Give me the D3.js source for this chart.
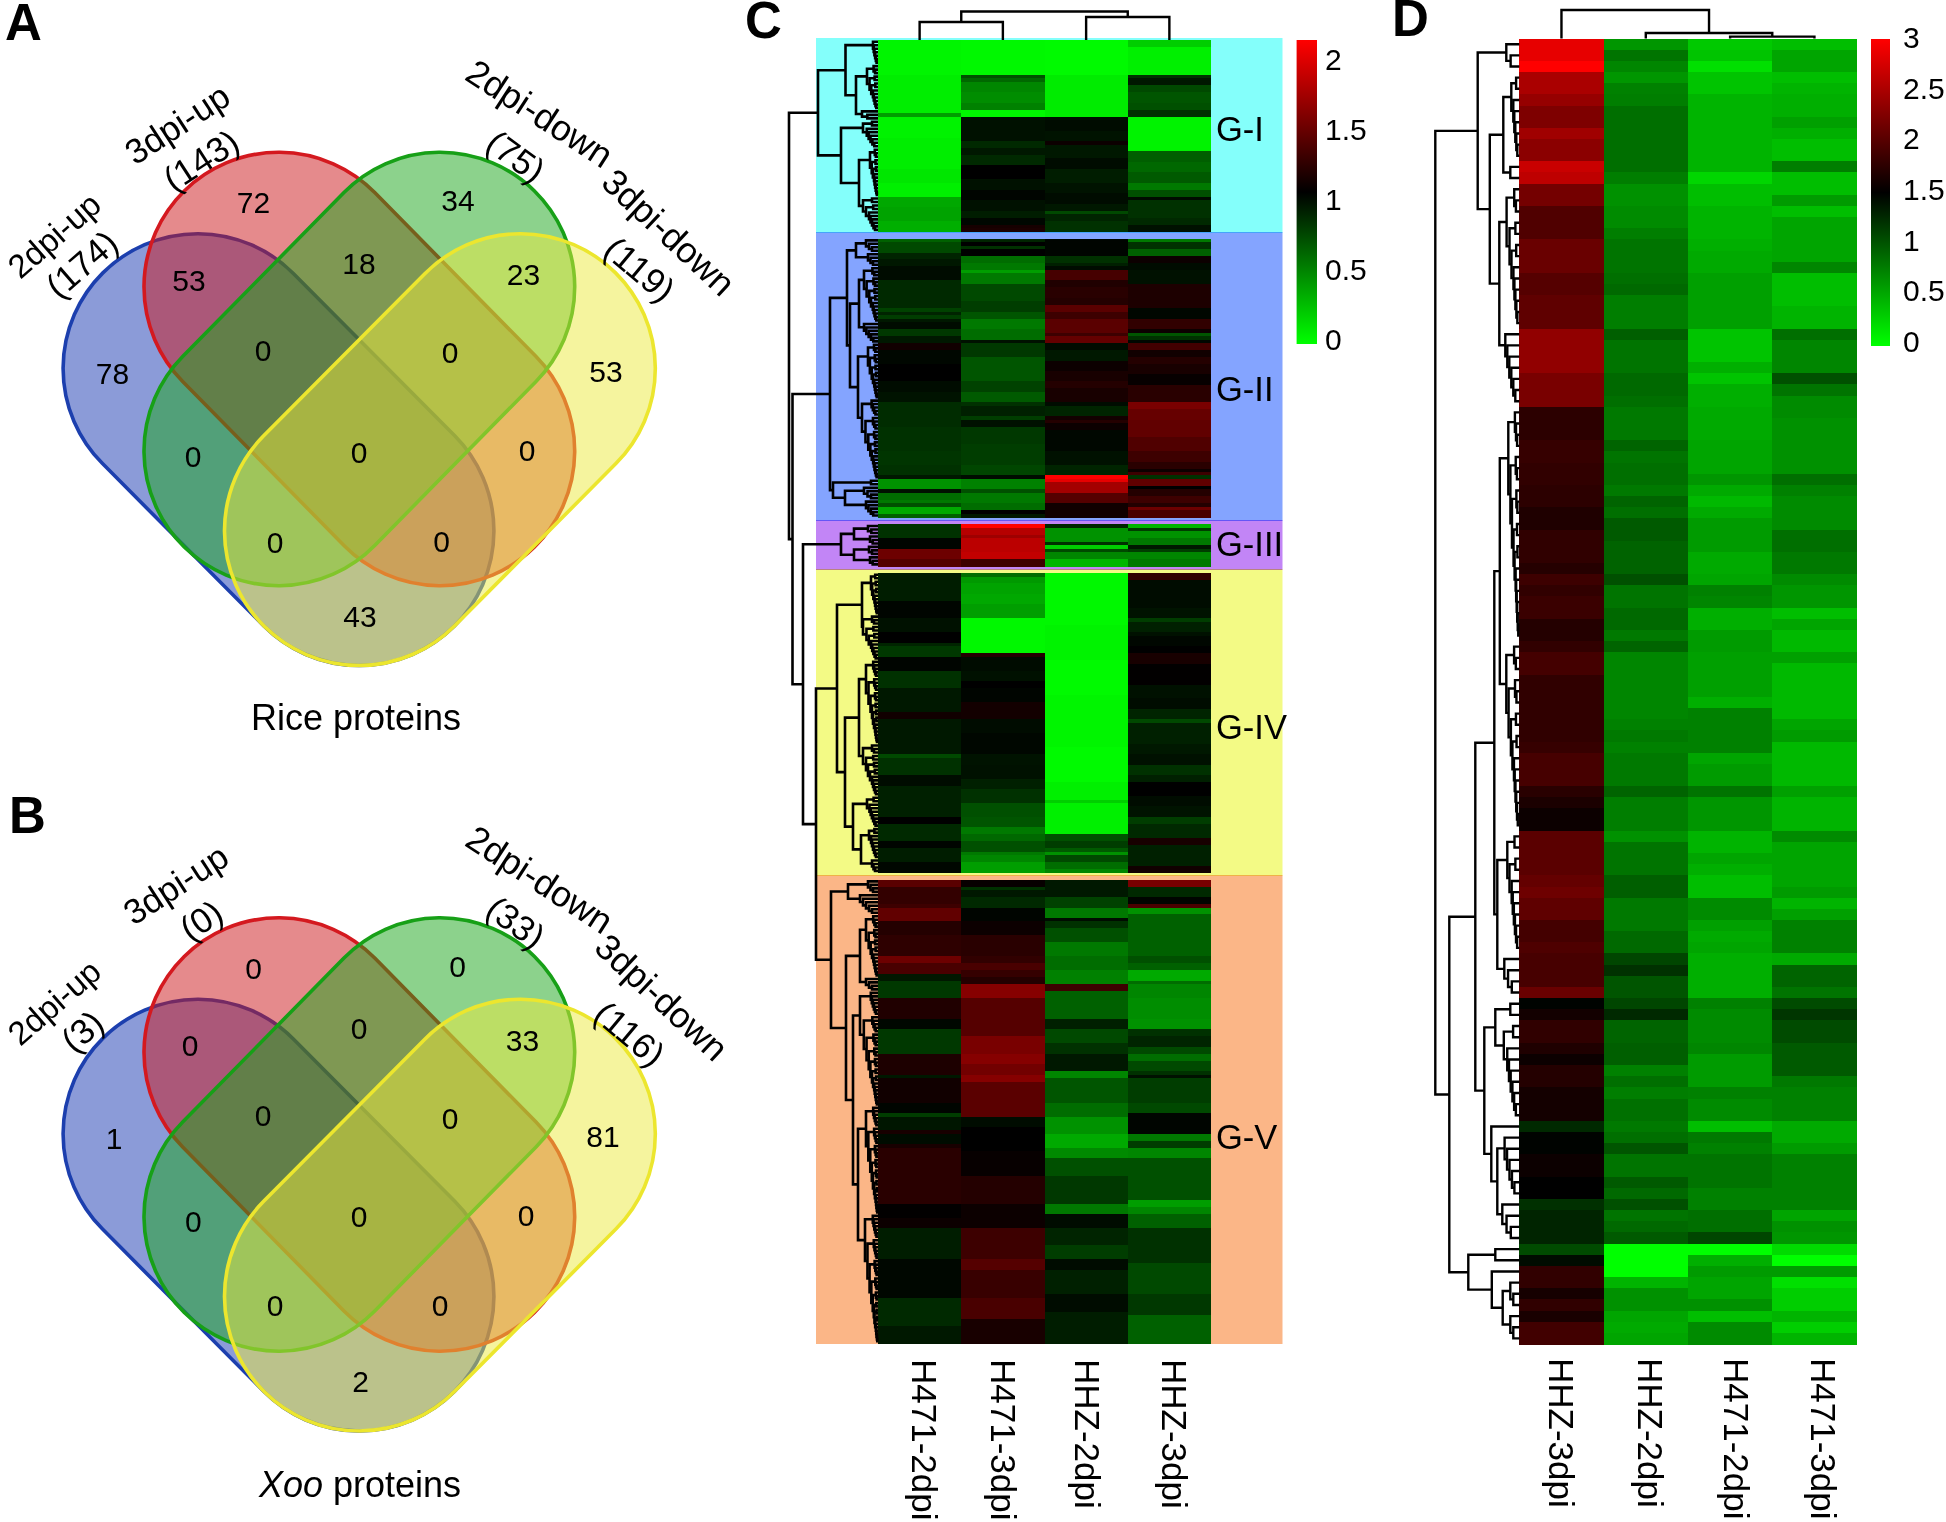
<!DOCTYPE html>
<html><head><meta charset="utf-8">
<script src="https://cdn.jsdelivr.net/npm/d3@7"></script>
<style>html,body{margin:0;background:#fff}svg{display:block}text{font-family:"Liberation Sans",Arial,sans-serif;fill:#000}</style>
</head><body><svg id="c" width="1946" height="1522"></svg>
<script>
// ---------- Venn data ----------
const vennSets = ["2dpi-up","3dpi-up","2dpi-down","3dpi-down"];
const riceSetSizes = [174,143,75,119];
const xooSetSizes = [3,0,33,116];
const vennRegions = ["a","b","ab","c","bc","cd","abc","bcd","d","ac","abcd","bd","acd","abd","ad"];
const riceCounts = [78,72,53,34,18,23,0,0,53,0,0,0,0,0,43];
const xooCounts  = [1,0,0,0,0,33,0,0,81,0,0,0,0,0,2];

// ---------- Panel C heat values (runs of [rows, value]) ----------
const groupsC = ["G-I","G-II","G-III","G-IV","G-V"];
const colsC = ["H471-2dpi","H471-3dpi","HHZ-2dpi","HHZ-3dpi"];
const h2_GI=[[10,.04],[11,.07],[1,.4],[6,.05],[9,.07],[4,.1],[4,.06],[3,.36],[4,.38],[3,.33]];
const h3_GI=[[10,.03],[1,.72],[1,.62],[3,.5],[3,.47],[2,.52],[2,.03],[7,.98],[2,.88],[2,.95],[3,.88],[4,1.05],[3,.98],[3,1.03],[3,.98],[2,.93],[2,1.02],[1,1.14],[1,1.16],[2,1.05]];
const z2_GI=[[10,.02],[12,.08],[4,1.0],[3,.97],[1,1.1],[4,.95],[3,1.0],[4,.93],[3,.97],[3,1.0],[2,.95],[1,.75],[2,.9],[3,.85]];
const z3_GI=[[2,.2],[8,.06],[1,.85],[2,.95],[2,.75],[3,.7],[2,.72],[2,.85],[10,.05],[3,.66],[3,.62],[3,.68],[2,.55],[2,.72],[1,1.0],[1,.85],[4,.85],[2,.88],[2,.98]];
const h2_GII=[[1,.65],[3,.75],[2,.9],[2,.95],[4,1.0],[8,.88],[1,.78],[1,.9],[1,.8],[1,.95],[2,1],[2,.82],[2,.95],[2,1.12],[4,1.02],[5,1.05],[3,1.0],[3,.97],[7,.87],[7,.85],[4,.83],[3,.85],[1,.95],[3,.45],[1,.98],[2,.6],[1,.55],[1,.72],[2,.35],[1,.65]];
const h3_GII=[[1,.9],[1,1.05],[1,.85],[2,1.05],[2,.6],[2,.55],[1,.4],[3,.55],[5,.75],[3,.8],[2,.7],[3,.55],[3,.6],[1,.98],[4,.82],[7,.7],[3,.78],[3,.68],[1,.85],[3,.92],[1,.8],[2,.98],[5,.82],[6,.8],[3,.76],[1,1.0],[3,.52],[1,.72],[3,.55],[2,.6],[1,1.05],[1,.95]];
const z2_GII=[[5,1.03],[2,.85],[1,.92],[1,1.0],[3,1.34],[2,1.18],[3,1.22],[2,1.2],[2,1.42],[2,1.3],[4,1.42],[1,1.3],[2,1.46],[2,1.0],[3,.95],[3,1.1],[3,1.15],[2,1.2],[4,1.15],[1,1.0],[3,.9],[1,1.13],[1,1.2],[2,1.1],[6,1.02],[4,.98],[3,.9],[1,2.1],[1,2.0],[3,1.72],[3,1.4],[4,1.12]];
const z3_GII=[[1,.55],[2,.85],[2,.65],[2,1.1],[2,1.0],[4,.98],[7,1.17],[3,1.02],[3,1.25],[1,1.1],[1,.7],[1,.85],[1,1.02],[2,1.32],[2,1.12],[2,1.2],[3,1.15],[3,1.08],[5,1.22],[2,1.55],[3,1.47],[5,1.45],[4,1.38],[3,1.3],[2,1.22],[1,1.1],[1,1.3],[1,.85],[2,1.45],[1,1.05],[2,1.2],[2,1.3],[1,1.2],[1,1.5],[2,1.35]];
const h2_GIII=[[4,.85],[3,1.03],[3,1.5],[2,1.4]];
const h3_GIII=[[1,2.1],[2,1.8],[1,1.7],[4,1.82],[2,1.85],[2,1.3]];
const z2_GIII=[[1,.9],[4,.45],[1,.85],[1,.2],[1,.75],[2,.5],[2,.3]];
const z3_GIII=[[1,.3],[1,.8],[2,.45],[2,.55],[1,.95],[1,.8],[2,.5],[2,.55]];
const h2_GIV=[[8,.93],[5,1.03],[4,.98],[3,1.05],[1,.9],[3,.82],[4,1.03],[5,.85],[7,.95],[2,1.12],[10,.95],[1,.75],[5,.85],[3,1.0],[9,.92],[2,1.05],[5,.88],[2,1.03],[4,.93],[3,1.02]];
const h3_GIV=[[1,.6],[2,.42],[3,.38],[3,.36],[4,.4],[10,.03],[1,1.2],[4,1.0],[3,.98],[2,1.05],[4,1.03],[5,1.13],[4,1.0],[6,1.02],[3,.97],[4,.98],[3,.92],[4,.85],[4,.72],[3,.7],[2,.55],[2,.62],[3,.72],[1,.55],[2,.5],[3,.4]];
const z2_GIV=[[15,.03],[10,.05],[10,.02],[15,.04],[10,.02],[5,.06],[1,.2],[9,.06],[2,.72],[2,.8],[1,.68],[1,.45],[2,.75],[2,.6],[1,.5]];
const z3_GIV=[[2,1.25],[8,1.0],[3,.97],[1,.8],[3,.92],[1,.98],[3,1.02],[2,1.05],[3,1.15],[6,1.06],[4,.98],[3,1.0],[3,.9],[1,.75],[6,.92],[3,.95],[3,.98],[3,.85],[2,.92],[4,1.05],[3,1.0],[3,.97],[2,.8],[4,.88],[2,1.15],[6,.92],[2,1.12]];
const h2_GV=[[2,1.42],[5,1.26],[1,1.3],[4,1.45],[4,1.2],[6,1.24],[2,1.5],[3,1.35],[2,.95],[5,.82],[6,1.18],[3,1.02],[7,.82],[6,1.17],[1,.95],[7,1.12],[3,1.03],[1,.8],[4,.96],[1,1.15],[3,1.0],[1,1.15],[16,1.22],[4,1.06],[3,1.1],[9,.93],[11,1.02],[8,.88],[5,.95]];
const h3_GV=[[2,1.08],[1,.85],[2,.95],[3,.88],[4,1.03],[4,1.1],[6,1.22],[2,1.25],[2,1.35],[2,1.27],[2,1.2],[4,1.6],[11,1.4],[5,1.55],[3,1.6],[3,1.52],[2,1.6],[10,1.42],[3,1.0],[7,1.05],[7,1.08],[5,1.2],[3,1.2],[7,1.1],[9,1.3],[3,1.4],[8,1.28],[6,1.35],[7,1.15]];
const z2_GV=[[5,.95],[3,.78],[3,.55],[1,1.0],[2,.85],[4,.72],[4,.55],[4,.6],[4,.52],[2,1.3],[8,.65],[3,.92],[4,.75],[3,.85],[5,.95],[2,.5],[7,.7],[4,.6],[5,.45],[4,.35],[3,.48],[5,.72],[8,.82],[3,.55],[4,1.0],[5,.9],[4,.8],[3,1.0],[7,.92],[5,1.0],[9,.93]];
const z3_GV=[[2,1.55],[3,.88],[2,1.03],[1,1.35],[2,.45],[12,.65],[2,.72],[2,.65],[3,.35],[1,.6],[4,.5],[6,.47],[3,.45],[2,.85],[3,.9],[2,.75],[2,.6],[3,.75],[1,.85],[1,.98],[7,.8],[3,.75],[6,1.03],[2,.55],[2,.8],[3,.5],[12,.72],[2,.4],[2,.5],[4,.65],[10,.85],[9,.75],[6,.82],[8,.65]];

// ---------- Panel D heat values (one per row) ----------
const colsD = ["HHZ-3dpi","HHZ-2dpi","H471-2dpi","H471-3dpi"];
const dHHZ3=[2.86,2.86,3,2.5,2.5,2.38,2.24,2.24,2.44,2.32,2.32,2.68,2.62,2.18,2.18,1.97,1.97,1.97,2.12,2.12,2.12,2,2,2.06,2.06,2.06,2.35,2.35,2.35,2.35,2.21,2.21,2.21,1.76,1.76,1.76,1.82,1.82,1.79,1.79,1.76,1.76,1.68,1.68,1.78,1.78,1.78,1.72,1.86,1.79,1.84,1.84,1.71,1.71,1.79,1.9,1.9,1.78,1.78,1.78,1.78,1.78,1.78,1.82,1.91,1.91,1.91,1.74,1.66,1.57,1.57,2.03,2.03,2.03,2.03,2.09,2.15,2.06,2.06,1.9,1.9,1.96,1.92,1.92,1.92,2.12,1.48,1.61,1.78,1.78,1.68,1.57,1.71,1.71,1.62,1.62,1.62,1.26,1.48,1.48,1.57,1.57,1.5,1.5,1.22,1.29,1.29,1.29,1.06,1.43,1.79,1.79,1.63,1.78,1.65,1.88,1.88];
const dHHZ2=[.62,.82,.71,.62,.74,.76,.85,.85,.85,.85,.85,.85,.76,.65,.65,.68,.68,.76,.82,.82,.82,.85,.88,.76,.76,.76,.94,.82,.82,.82,.88,.88,.85,.79,.79,.79,.91,.82,.85,.85,.79,.91,.85,.97,.97,.92,.92,.92,1.03,.82,.82,.88,.88,.79,.91,.71,.71,.71,.71,.71,.71,.74,.79,.74,.79,.79,.79,.91,.76,.76,.76,.65,.82,.82,.82,.94,.94,.79,.79,.79,.88,.88,1.09,1.21,1,1,1.09,1.26,.91,.91,.94,.94,.74,.85,.76,.84,.84,.79,.85,1,.82,.82,.97,.88,1.03,.82,.88,.97,0,0,0,.44,.65,.65,.53,.5,.53];
const dH2=[.32,.35,.18,.35,.35,.44,.44,.44,.44,.44,.44,.44,.24,.38,.38,.44,.44,.44,.47,.5,.5,.56,.56,.56,.56,.56,.35,.35,.35,.47,.35,.47,.47,.5,.5,.5,.53,.53,.53,.62,.5,.41,.5,.59,.59,.59,.5,.5,.53,.74,.71,.47,.47,.59,.59,.56,.56,.56,.56,.47,.74,.74,.74,.74,.53,.59,.59,.82,.62,.62,.62,.44,.44,.53,.47,.38,.38,.68,.68,.56,.5,.53,.47,.47,.47,.47,.74,.68,.68,.68,.71,.59,.59,.59,.74,.68,.68,.38,.79,.74,.82,.82,.82,.74,.74,.85,.85,1.09,0,.47,.59,.53,.53,.65,.38,.68,.68];
const dH3=[.38,.53,.53,.38,.44,.47,.47,.56,.47,.38,.38,.76,.38,.38,.59,.38,.53,.53,.53,.53,.71,.38,.38,.38,.44,.44,.85,.71,.71,.71,1.03,.82,.68,.68,.65,.65,.65,.65,.65,.85,.74,.68,.68,.68,.85,.85,.79,.79,.68,.62,.62,.38,.53,.41,.41,.56,.41,.41,.41,.41,.41,.53,.59,.41,.41,.41,.41,.56,.44,.44,.44,.68,.53,.53,.53,.53,.59,.44,.56,.74,.74,.74,.5,.91,.91,.82,1.06,1.18,1.06,1.06,.97,.97,.97,.79,.74,.74,.74,.5,.5,.59,.74,.74,.74,.74,.74,.53,.65,.62,.21,0,.59,.18,.29,.29,.44,.29,.44];

// ---------- Legend ticks ----------
const ticksC=[0,.5,1,1.5,2];
const ticksD=[0,.5,1,1.5,2,2.5,3];

// ---------- Dendrogram merge heights ----------
const n=(h,a,b)=>({h,children:[a,b]});
const leaf={h:0};
const c=(k,h)=>{ if(k<=1) return {h:0}; const a=Math.max(1,Math.round(k*.2)); return n(h,c(a,h*.4),c(k-a,h*(k-a)/k)); };
const treeC=n(89,
  n(60,n(32.5,c(7,5),n(22,c(13,11),c(3,16))),n(37,c(8,15),n(19,c(14,8),c(10,15)))),
  n(85.5,
    n(48,n(31,n(22,c(4,12),c(4,10)),n(28,n(19,c(16,14),c(6,14)),n(20,c(16,10),c(23,16)))),n(45,c(2,7),n(33,c(4,14),c(5,12)))),
    n(75,
      n(37,n(24,c(3,10),c(3,8)),n(24,c(3,9),c(3,8))),
      n(62,
        n(41,n(16,c(12,7),c(13,15)),n(33,n(19,c(24,12),c(15,15)),n(25,c(9,11),n(17,c(9,9),c(4,6))))),
        n(47,n(30,c(4,10),c(6,18)),n(32,n(18,c(18,12),c(4,12)),n(25,c(33,18),n(20,c(31,12),c(37,13)))))))));
const treeD=n(84,
  n(41.6,c(3,13),n(29.5,n(16,c(8,8),c(2,9)),n(20,c(13,12.7),c(7,14)))),
  n(70,
    n(44,n(25,n(19.5,c(21,11),c(17,13)),n(22,c(11,12),c(4,15))),n(35,n(24,c(2,9),c(9,15.5)),n(28,leaf,n(22,c(6,14.7),c(4,17))))),
    n(51,n(24,leaf,leaf),n(27.5,leaf,n(16.6,c(3,9),c(3,9))))));
const topC=n(28.5,n(18,leaf,leaf),n(23,leaf,leaf));
const topD=n(28.6,leaf,n(5.6,leaf,n(2,leaf,leaf)));

// ---------- drawing ----------
const svg=d3.select("#c");
const FS=(s,t,o)=>{const e=s.append("text").text(t);for(const k in o)e.attr(k,o[k]);return e;};

// Venn
const R=134.7;
const stadiums=[
 {p:[[197.8,368.4],[359.2,530.8]],fill:"#1737b1",stroke:"#1c3fae"},
 {p:[[278.7,287],[440,451]],fill:"#cb1519",stroke:"#d4191f"},
 {p:[[440,287],[278.7,451]],fill:"#19a519",stroke:"#17a017"},
 {p:[[520.6,368.4],[359.2,530.8]],fill:"#ebe93d",stroke:"#ece62e"}];
function stadium(a,b,r){
  const L=Math.hypot(b[0]-a[0],b[1]-a[1]),dx=(b[0]-a[0])/L,dy=(b[1]-a[1])/L,nx=-dy*r,ny=dx*r;
  return `M${a[0]+nx},${a[1]+ny}L${b[0]+nx},${b[1]+ny}A${r},${r} 0 0 0 ${b[0]-nx},${b[1]-ny}L${a[0]-nx},${a[1]-ny}A${r},${r} 0 0 0 ${a[0]+nx},${a[1]+ny}Z`;
}
const numPosA=[[112.5,373],[253.5,202.6],[189,280],[458,200],[359,263],[523.5,274],[263,350.5],[450,352],[606,371],[193,456],[359,452],[527,450],[275,542],[441.6,541],[360,616.6]];
const numPosB=[[114,1138],[253.5,968],[190,1045],[457.6,966],[359,1028],[522.5,1040],[263,1115.5],[450,1118],[603,1136],[193.4,1221],[359,1216],[526,1215],[275,1305],[440,1305],[360.6,1381]];
const labPosA=[[[54,235,-41,33],[81.5,264,-41,35]],[[177,123.6,-33,35],[201,160,-33,35]],[[540,113,33,36],[516,156,36,35]],[[669,232,43,36],[640,269,40,35]]];
const labPosB=[[[54,1002,-41,33],[82,1031,-41,35]],[[175.5,884,-33,35],[201,920,-33,35]],[[540,879,33,36],[516,922,36,35]],[[662,997,43,36],[630,1033.5,40,35]]];
function venn(dy,counts,sizes,numPos,labPos){
  const g=svg.append("g");
  const s=g.append("g").attr("transform",`translate(0,${dy})`);
  s.selectAll("path").data(stadiums).join("path").attr("d",d=>stadium(d.p[0],d.p[1],R))
    .attr("fill",d=>d.fill).attr("fill-opacity",.5).attr("stroke",d=>d.stroke).attr("stroke-width",3.6);
  g.selectAll("text.n").data(counts).join("text").attr("class","n").text(d=>d)
    .attr("x",(d,i)=>numPos[i][0]).attr("y",(d,i)=>numPos[i][1]).attr("dy",".36em").attr("text-anchor","middle").attr("font-size",30);
  vennSets.forEach((t,i)=>{
    [t,`(${sizes[i]})`].forEach((x,j)=>{
      const q=labPos[i][j];
      g.append("text").text(x).attr("text-anchor","middle").attr("dy",".36em").attr("font-size",q[3])
       .attr("transform",`translate(${q[0]},${q[1]}) rotate(${q[2]})`);
    });
  });
}
venn(0,riceCounts,riceSetSizes,numPosA,labPosA);
venn(765.5,xooCounts,xooSetSizes,numPosB,labPosB);
FS(svg,"Rice proteins",{x:356,y:729.5,"text-anchor":"middle","font-size":36});
const xt=svg.append("text").attr("x",360).attr("y",1496.6).attr("text-anchor","middle").attr("font-size",36);
xt.append("tspan").attr("font-style","italic").text("Xoo");xt.append("tspan").text(" proteins");
[["A",5,40],["B",9,833],["C",745,38],["D",1392,36]].forEach(d=>FS(svg,d[0],{x:d[1],y:d[2],"font-size":51,"font-weight":"bold"}));

// Panel C
const colorC=d3.scaleLinear().domain([0,1.05,2.1]).range(["#00ff00","#000000","#ff0000"]).clamp(true);
const colorD=d3.scaleLinear().domain([0,1.5,3]).range(["#00ff00","#000000","#ff0000"]).clamp(true);
const rowYC=d3.scaleLinear().domain([0,374]).range([40,1343]);
const xC=d3.scaleBand().domain(colsC).range([878,1211]);
const panels=[[38,233,"#84fffb"],[232,521,"#84a4ff"],[520,570,"#c285f6"],[569,876,"#f3fa85"],[875,1344,"#fbb687"]];
svg.append("g").style("isolation","isolate").selectAll("rect").data(panels).join("rect")
  .attr("x",816).attr("width",466.5).attr("y",d=>d[0]).attr("height",d=>d[1]-d[0]).attr("fill",d=>d[2]).style("mix-blend-mode","multiply");
const gapRows=2, groupSizes=[55,80,12,86,133];
const dataC=[[h2_GI,h2_GII,h2_GIII,h2_GIV,h2_GV],[h3_GI,h3_GII,h3_GIII,h3_GIV,h3_GV],[z2_GI,z2_GII,z2_GIII,z2_GIV,z2_GV],[z3_GI,z3_GII,z3_GIII,z3_GIV,z3_GV]];
const rowsC=[];
let st=0; const starts=[];
groupSizes.forEach(s=>{starts.push(st);d3.range(s).forEach(i=>rowsC.push(st+i));st+=s+gapRows;});
const cellsC=[];
dataC.forEach((col,ci)=>col.forEach((runs,gi)=>{
  let r=starts[gi];
  runs.forEach(([k,v])=>{ for(let i=0;i<k;i++){ if(r<starts[gi]+groupSizes[gi]) cellsC.push({col:colsC[ci],row:r,v}); r++; } });
}));
svg.append("g").attr("shape-rendering","crispEdges").selectAll("rect").data(cellsC).join("rect")
  .attr("x",d=>xC(d.col)).attr("width",xC.bandwidth()).attr("y",d=>rowYC(d.row)).attr("height",d=>rowYC(d.row+1)-rowYC(d.row)+.5).attr("fill",d=>colorC(d.v));

// Panel D
const rowsDn=d3.range(dHHZ3.length);
const rowYD=d3.scaleLinear().domain([0,117]).range([38.6,1344]);
const xD=d3.scaleBand().domain(colsD).range([1519.3,1856.6]);
const dataD=[dHHZ3,dHHZ2,dH2,dH3];
svg.append("g").attr("shape-rendering","crispEdges").selectAll("g").data(dataD).join("g").each(function(col,ci){
  d3.select(this).selectAll("rect").data(col).join("rect")
   .attr("x",xD(colsD[ci])).attr("width",xD.bandwidth()).attr("y",(d,i)=>rowYD(i)).attr("height",(d,i)=>rowYD(i+1)-rowYD(i)+.5).attr("fill",d=>colorD(d));
});

// Dendrograms
function leftDendro(tree,rows,rowY,x0,sw){
  const root=d3.hierarchy(tree,d=>d.children);
  let k=0; const X=d3.scaleLinear().domain([0,100]).range([x0,x0-100]);
  root.eachAfter(d=>{ d.py=d.children? (d.children[0].py+d.children[1].py)/2 : rowY(rows[k++]+.5); });
  svg.append("g").attr("fill","none").attr("stroke","#000").attr("stroke-width",sw).selectAll("path")
   .data(root.descendants().filter(d=>d.children)).join("path")
   .attr("d",d=>{const [a,b]=d.children;return `M${X(a.data.h)},${a.py}H${X(d.data.h)}V${b.py}H${X(b.data.h)}`;});
}
leftDendro(treeC,rowsC,rowYC,878,2.6);
leftDendro(treeD,rowsDn,rowYD,1519.3,2.4);
function topDendro(tree,cols,x,y0,sw){
  const root=d3.hierarchy(tree,d=>d.children);
  let k=0; const Y=d3.scaleLinear().domain([0,40]).range([y0,y0-40]);
  root.eachAfter(d=>{ d.px=d.children? (d.children[0].px+d.children[1].px)/2 : x(cols[k++])+x.bandwidth()/2; });
  svg.append("g").attr("fill","none").attr("stroke","#000").attr("stroke-width",sw).selectAll("path")
   .data(root.descendants().filter(d=>d.children)).join("path")
   .attr("d",d=>{const [a,b]=d.children;return `M${a.px},${Y(a.data.h)}V${Y(d.data.h)}H${b.px}V${Y(b.data.h)}`;});
}
topDendro(topC,colsC,xC,40,2.4);
topDendro(topD,colsD,xD,38.6,2.4);

// Column labels
const labXC=[912,991,1075,1161.5], labXD=[1549,1638,1724,1811];
colsC.forEach((t,i)=>svg.append("text").text(t).attr("font-size",35).attr("transform",`translate(${labXC[i]},1359) rotate(90)`));
colsD.forEach((t,i)=>svg.append("text").text(t).attr("font-size",35).attr("transform",`translate(${labXD[i]},1358) rotate(90)`));

// Group labels
const groupBase=[141,400.7,556,739,1149];
groupsC.forEach((t,i)=>FS(svg,t,{x:1216,y:groupBase[i],"font-size":34.5}));

// Legends
function legend(id,color,dom,x,w,y0,y1,ticks,axisDom,axisRange,pad){
  const grad=svg.append("defs").append("linearGradient").attr("id",id).attr("x1",0).attr("x2",0).attr("y1",1).attr("y2",0);
  dom.forEach((d,i)=>grad.append("stop").attr("offset",i/(dom.length-1)).attr("stop-color",color(d)));
  svg.append("rect").attr("x",x).attr("y",y0).attr("width",w).attr("height",y1-y0).attr("fill",`url(#${id})`);
  const s=d3.scaleLinear().domain(axisDom).range(axisRange);
  const a=svg.append("g").attr("transform",`translate(${x+w},0)`).call(d3.axisRight(s).tickValues(ticks).tickSize(0).tickPadding(pad).tickFormat(d=>d));
  a.select(".domain").remove();
  a.selectAll("text").attr("font-size",30).style("font-family",'"Liberation Sans",Arial,sans-serif').attr("fill","#000");
}
legend("gc",colorC,[0,1.05,2.1],1296.6,20.4,40,344,ticksC,[0,2],[339.5,60],8);
legend("gd",colorD,[0,1.5,3],1871,19,39,346,ticksD,[0,3],[342,38],13);
</script></body></html>
